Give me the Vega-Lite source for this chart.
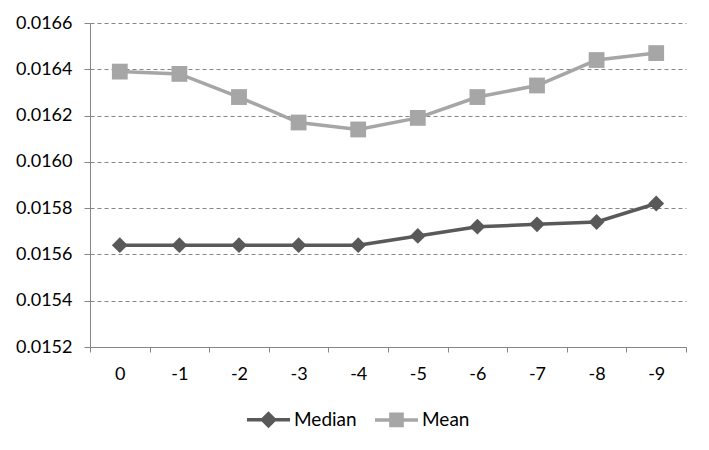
{
  "$schema": "https://vega.github.io/schema/vega-lite/v6.json",
  "autosize": "none",
  "width": 596,
  "height": 324,
  "padding": {"left": 90, "top": 23, "right": 23, "bottom": 103},
  "background": "white",
  "config": {
    "font": "Lato",
    "view": {"stroke": null},
    "axis": {"labelFont": "Lato", "labelFontSize": 18, "labelColor": "#000000", "domainColor": "#868686", "tickColor": "#868686", "domainWidth": 1, "tickWidth": 1}
  },
  "data": {
    "values": [
      {"lag": "0", "series": "Median", "value": 0.01564},
      {"lag": "-1", "series": "Median", "value": 0.01564},
      {"lag": "-2", "series": "Median", "value": 0.01564},
      {"lag": "-3", "series": "Median", "value": 0.01564},
      {"lag": "-4", "series": "Median", "value": 0.01564},
      {"lag": "-5", "series": "Median", "value": 0.01568},
      {"lag": "-6", "series": "Median", "value": 0.01572},
      {"lag": "-7", "series": "Median", "value": 0.01573},
      {"lag": "-8", "series": "Median", "value": 0.01574},
      {"lag": "-9", "series": "Median", "value": 0.01582},
      {"lag": "0", "series": "Mean", "value": 0.01639},
      {"lag": "-1", "series": "Mean", "value": 0.01638},
      {"lag": "-2", "series": "Mean", "value": 0.01628},
      {"lag": "-3", "series": "Mean", "value": 0.01617},
      {"lag": "-4", "series": "Mean", "value": 0.01614},
      {"lag": "-5", "series": "Mean", "value": 0.01619},
      {"lag": "-6", "series": "Mean", "value": 0.01628},
      {"lag": "-7", "series": "Mean", "value": 0.01633},
      {"lag": "-8", "series": "Mean", "value": 0.01644},
      {"lag": "-9", "series": "Mean", "value": 0.01647}
    ]
  },
  "encoding": {
    "x": {
      "field": "lag", "type": "nominal", "sort": null,
      "scale": {"type": "band", "paddingInner": 0, "paddingOuter": 0},
      "axis": {"title": null, "labelAngle": 0, "tickBand": "extent", "tickSize": 5, "labelPadding": 13, "grid": false}
    },
    "y": {
      "field": "value", "type": "quantitative",
      "scale": {"domain": [0.0152, 0.0166], "nice": false, "zero": false},
      "axis": {"title": null, "values": [0.0152, 0.0154, 0.0156, 0.0158, 0.016, 0.0162, 0.0164, 0.0166], "format": ".4f", "tickSize": 6, "labelPadding": 12, "grid": true, "gridColor": "#868686", "gridDash": [4, 3], "gridWidth": 1}
    },
    "color": {
      "field": "series", "type": "nominal",
      "scale": {"domain": ["Median", "Mean"], "range": ["#595959", "#A6A6A6"]},
      "legend": {
        "title": null, "orient": "none", "direction": "horizontal",
        "legendX": 155, "legendY": 373,
        "labelFont": "Lato", "labelFontSize": 19, "labelColor": "#000000",
        "symbolSize": 1850, "symbolStrokeWidth": 3.5, "columnPadding": 10, "labelOffset": 2,
        "symbolType": "M-1,0H1",
        "encode": {
          "symbols": {
            "update": {
              "shape": {"signal": "datum.value === 'Median' ? 'M-1,0H1M-0.28,0L0,-0.28L0.28,0L0,0.28Z' : 'M-1,0H1M-0.26,-0.26H0.26V0.26H-0.26Z'"},
              "fill": {"signal": "datum.value === 'Median' ? '#595959' : '#A6A6A6'"},
              "stroke": {"signal": "datum.value === 'Median' ? '#595959' : '#A6A6A6'"},
              "fillOpacity": {"value": 1},
              "strokeWidth": {"value": 3.5}
            }
          }
        }
      }
    }
  },
  "layer": [
    {
      "mark": {"type": "line", "strokeWidth": 3.5}
    },
    {
      "transform": [{"filter": "datum.series === 'Median'"}],
      "mark": {"type": "point", "shape": "diamond", "filled": true, "opacity": 1, "size": 250}
    },
    {
      "transform": [{"filter": "datum.series === 'Mean'"}],
      "mark": {"type": "point", "shape": "square", "filled": true, "opacity": 1, "size": 250}
    }
  ]
}
